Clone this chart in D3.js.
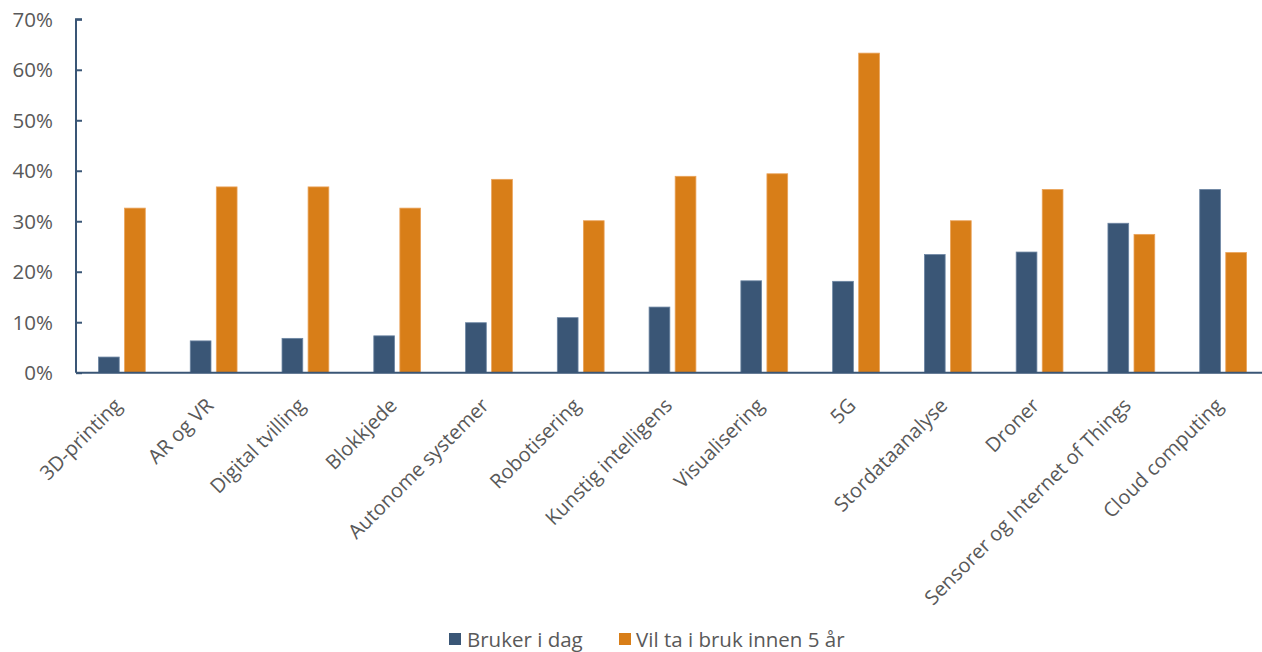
<!DOCTYPE html>
<html><head><meta charset="utf-8">
<script src="https://cdn.jsdelivr.net/npm/d3@7"></script>
<style>
body{margin:0;background:#fff;}
svg{display:block;font-family:"Open Sans",sans-serif;}
</style></head>
<body>
<svg id="chart" width="1262" height="652"></svg>
<script>
const categories = ["3D-printing","AR og VR","Digital tvilling","Blokkjede","Autonome systemer","Robotisering","Kunstig intelligens","Visualisering","5G","Stordataanalyse","Droner","Sensorer og Internet of Things","Cloud computing"];
const seriesNames = ["Bruker i dag","Vil ta i bruk innen 5 år"];
const brukerIDag = [3.1,6.3,6.8,7.3,9.9,10.9,13.0,18.2,18.1,23.4,23.9,29.6,36.3];
const vilTaIBruk = [32.6,36.8,36.8,32.6,38.3,30.1,38.9,39.4,63.3,30.1,36.3,27.4,23.8];
const yTicks = [0,10,20,30,40,50,60,70];
const colors = ["#3a5676","#d87e18"];

const svg = d3.select("#chart");
const x0 = 76, x1 = 1269, yTop = 19.3, yBot = 372.7;
const x = d3.scaleBand().domain(categories).range([x0,x1]).paddingInner(0).paddingOuter(0);
const y = d3.scaleLinear().domain([0,70]).range([yBot,yTop]);
const bw = x.bandwidth()*0.226, gap = x.bandwidth()*0.058;

const data = categories.map((c,i)=>({c, v:[brukerIDag[i], vilTaIBruk[i]]}));
const g = svg.append("g");
data.forEach(d=>{
  const cx = x(d.c)+x.bandwidth()/2;
  d.v.forEach((v,j)=>{
    const left = j===0 ? cx - gap/2 - bw : cx + gap/2;
    g.append("rect").attr("x",left).attr("y",y(v)).attr("width",bw).attr("height",yBot-y(v))
      .attr("fill",colors[j]).attr("stroke", j===0?"#6d86a3":"#eaa35a").attr("stroke-width",0.8);
  });
});

// y axis
const yAxis = d3.axisRight(y).tickValues(yTicks).tickSize(6).tickFormat("");
const ya = svg.append("g").attr("transform",`translate(${x0},0)`).call(yAxis);
ya.selectAll("path,line").attr("stroke","#3a5676").attr("stroke-width",2);
ya.select(".domain").attr("d",`M6,${yTop}H0V${yBot}`);
svg.selectAll(".ylab").data(yTicks).join("text").attr("class","ylab")
  .attr("x",53).attr("y",d=>y(d)+7.5).attr("text-anchor","end")
  .attr("font-size",20.5).attr("fill","#595959").text(d=>d+"%");

// x axis line
svg.append("line").attr("x1",x0).attr("x2",1262).attr("y1",yBot).attr("y2",yBot)
  .attr("stroke","#3a5676").attr("stroke-width",2);

// x labels
svg.selectAll(".xlab").data(categories).join("text").attr("class","xlab")
  .attr("transform",d=>`translate(${x(d)+x.bandwidth()/2+1},${yBot+34}) rotate(-45)`)
  .attr("text-anchor","end").attr("font-size",20).attr("fill","#595959").text(d=>d);

// legend
const leg = [{x:449,tx:467},{x:619,tx:636}];
seriesNames.forEach((n,i)=>{
  svg.append("rect").attr("x",leg[i].x).attr("y",633).attr("width",12).attr("height",12).attr("fill",colors[i]);
  svg.append("text").attr("x",leg[i].tx).attr("y",647).attr("font-size",20.5).attr("fill","#595959").text(n);
});
</script>
</body></html>
